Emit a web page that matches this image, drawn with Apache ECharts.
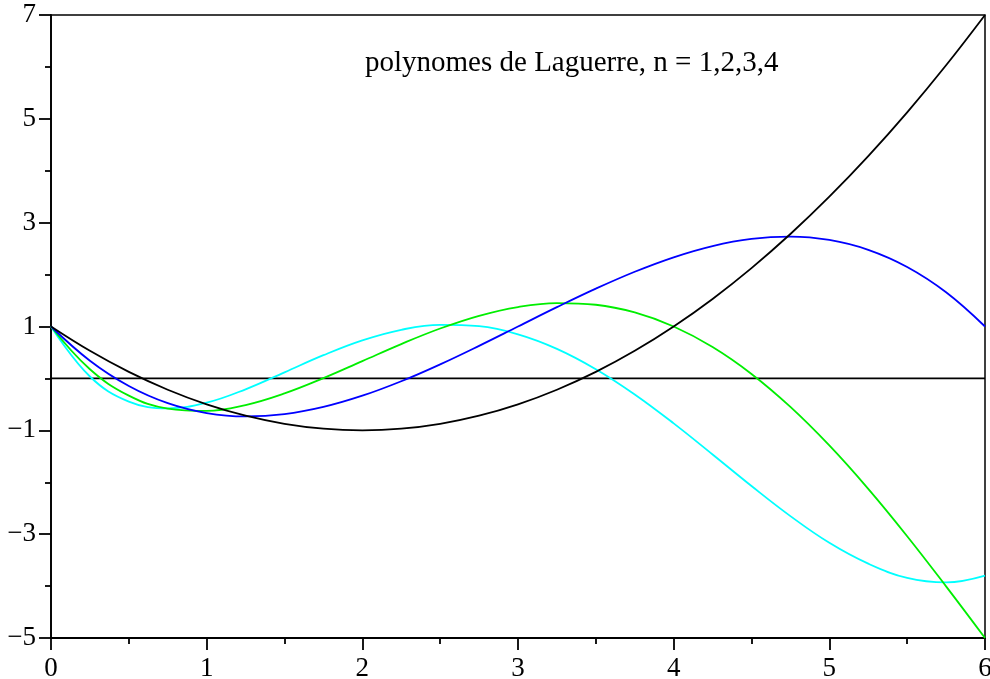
<!DOCTYPE html>
<html>
<head>
<meta charset="utf-8">
<script src="https://cdn.jsdelivr.net/npm/echarts@6/dist/echarts.min.js"></script>
<style>
html,body{margin:0;padding:0;background:#fff;overflow:hidden;}
#chart{width:990px;height:679px;}
</style>
</head>
<body>
<div id="chart"></div>
<script>
var titleText = 'polynomes de Laguerre, n = 1,2,3,4';
var xs = [0,0.25,0.5,0.75,1,1.25,1.5,1.75,2,2.25,2.5,2.75,3,3.25,3.5,3.75,4,4.25,4.5,4.75,5,5.25,5.5,5.75,6];
var curveBlack = [1,0.53125,0.125,-0.21875,-0.5,-0.71875,-0.875,-0.96875,-1,-0.96875,-0.875,-0.71875,-0.5,-0.21875,0.125,0.53125,1,1.53125,2.125,2.78125,3.5,4.28125,5.125,6.03125,7];
var curveBlue = [1,0.34115,-0.14583,-0.47656,-0.66667,-0.73177,-0.6875,-0.54948,-0.33333,-0.05469,0.27083,0.6276,1,1.3724,1.72917,2.05469,2.33333,2.54948,2.6875,2.73177,2.66667,2.47656,2.14583,1.65885,1];
var curveGreen = [1,0.17725,-0.33073,-0.58057,-0.625,-0.51286,-0.28906,0.00537,0.33333,0.66162,0.96094,1.20589,1.375,1.45068,1.41927,1.271,1,0.60433,0.08594,-0.54932,-1.29167,-2.12744,-3.03906,-4.00505,-5];
var curveCyan = [1,0.03726,-0.44557,-0.57668,-0.46667,-0.20951,0.11641,0.44737,0.73333,0.93694,1.03255,1.00528,0.85,0.57037,0.17786,-0.3092,-0.86667,-1.46547,-2.07266,-2.65234,-3.16667,-3.5685,-3.84401,-3.93036,-3.8];
var zeroLineX = [0,6];
var zeroLineY = [0,0];

function pairs(xv, yv){ return xv.map(function(x,i){ return [x, yv[i]]; }); }

var chart = echarts.init(document.getElementById('chart'), null, {width:990, height:679});
var font = '"Liberation Serif", "DejaVu Serif", serif';
var mkLine = function(name, color, data, z){
  return {name:name, type:'line', data:data, smooth:0.4, showSymbol:false, symbol:'none',
    lineStyle:{color:color, width:1.8}, z:z, animation:false};
};
chart.setOption({
  animation:false,
  backgroundColor:'#fff',
  title:{text:titleText, left:360, top:44, textStyle:{fontFamily:font, fontWeight:'normal', fontSize:29, color:'#000'}},
  grid:{left:51, right:5, top:15, bottom:41, containLabel:false, outerBoundsMode:'none',
    show:true, borderColor:'#000', borderWidth:1.5, backgroundColor:'transparent'},
  xAxis:{type:'value', min:0, max:6, interval:1,
    axisLine:{show:true, onZero:false, lineStyle:{color:'#000', width:1.8}},
    axisTick:{show:true, length:12, inside:false, lineStyle:{color:'#000', width:1.8}},
    minorTick:{show:true, splitNumber:2, length:6, lineStyle:{color:'#000', width:1.8}},
    splitLine:{show:false}, minorSplitLine:{show:false},
    axisLabel:{margin:17, fontFamily:font, fontSize:27, color:'#000'}},
  yAxis:{type:'value', min:-5, max:7, interval:2,
    axisLine:{show:true, onZero:false, lineStyle:{color:'#000', width:1.8}},
    axisTick:{show:true, length:12, lineStyle:{color:'#000', width:1.8}},
    minorTick:{show:true, splitNumber:2, length:6, lineStyle:{color:'#000', width:1.8}},
    splitLine:{show:false}, minorSplitLine:{show:false},
    axisLabel:{margin:15, fontFamily:font, fontSize:27, color:'#000',
      formatter:function(v){ return String(v).replace('-', '\u2212'); }}},
  series:[
    {name:'zero', type:'line', data:pairs(zeroLineX, zeroLineY), showSymbol:false, symbol:'none', lineStyle:{color:'#000', width:1.6}, z:1},
    mkLine('n1', '#000000', pairs(xs, curveBlack), 5),
    mkLine('n2', '#0000ff', pairs(xs, curveBlue), 4),
    mkLine('n3', '#00ee00', pairs(xs, curveGreen), 3),
    mkLine('n4', '#00ffff', pairs(xs, curveCyan), 2)
  ]
});
</script>
</body>
</html>
